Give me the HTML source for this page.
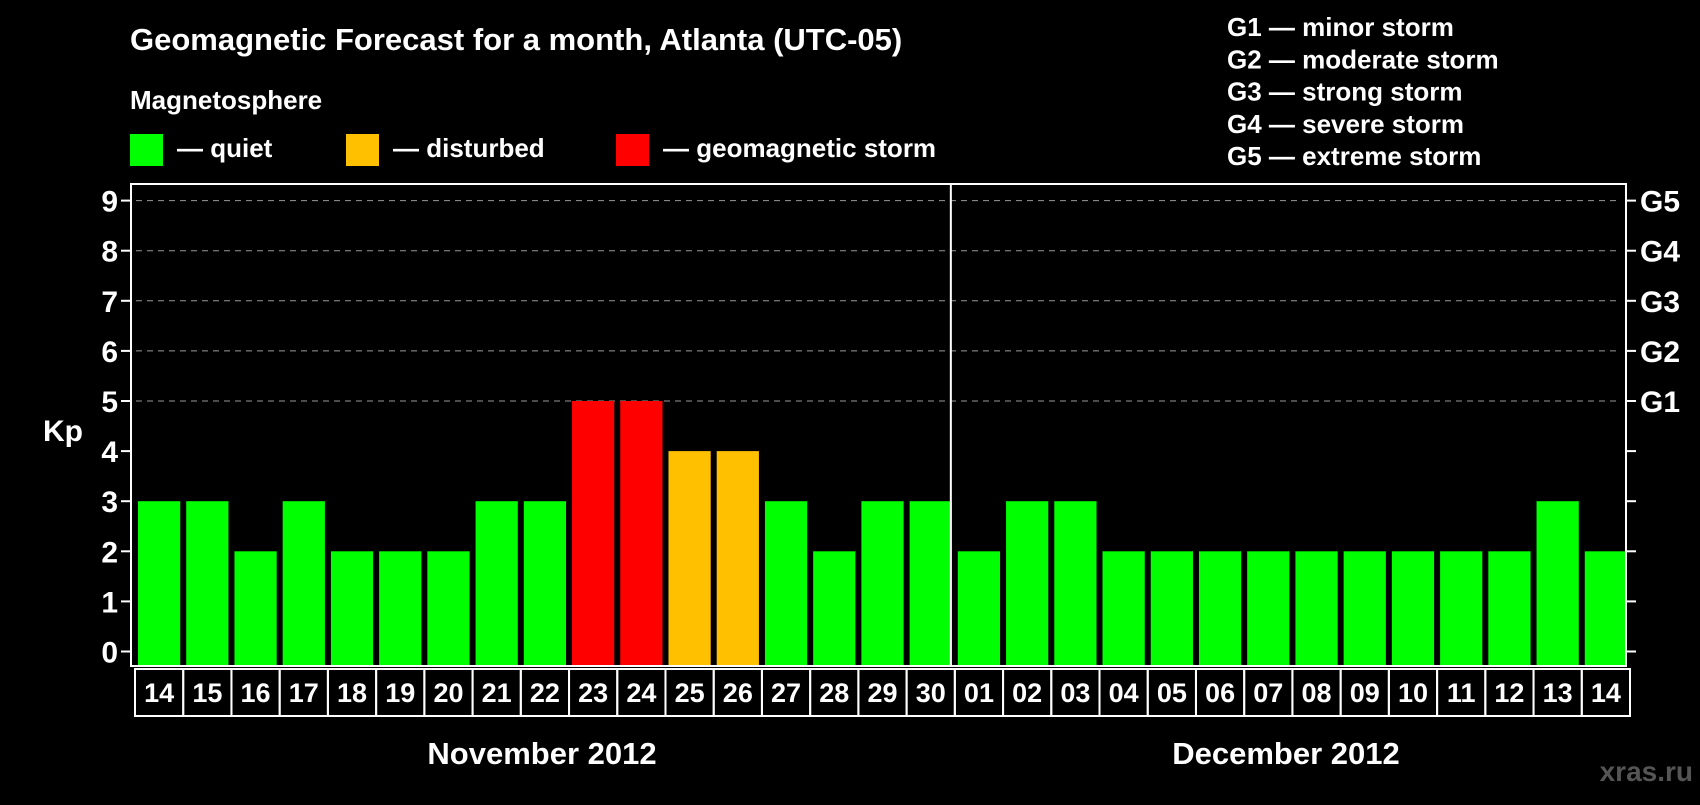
<!DOCTYPE html>
<html><head><meta charset="utf-8"><style>
body{margin:0;background:#000;width:1700px;height:800px;overflow:hidden;font-family:"Liberation Sans",sans-serif;font-weight:bold;color:#fff}
svg text{font-family:"Liberation Sans",sans-serif;font-weight:bold;fill:#fff}
</style></head><body>
<svg width="1700" height="800">
</svg>
<script>
const days=["14","15","16","17","18","19","20","21","22","23","24","25","26","27","28","29","30","01","02","03","04","05","06","07","08","09","10","11","12","13","14"];
const kp=[3,3,2,3,2,2,2,3,3,5,5,4,4,3,2,3,3,2,3,3,2,2,2,2,2,2,2,2,2,3,2];
const yTicks=[0,1,2,3,4,5,6,7,8,9];
const gLabels=["G1","G2","G3","G4","G5"];
const gLevels=[5,6,7,8,9];
const NS="http://www.w3.org/2000/svg";
const svg=document.querySelector('svg');
const L=131,R=1626,T=184,B=666,Y0=651.5,UNIT=50.1;
const pitch=(R-L)/days.length;
const y=v=>Y0-v*UNIT;
const x=i=>L+i*pitch;
function mk(tag,attrs,parent){const e=document.createElementNS(NS,tag);for(const k in attrs)e.setAttribute(k,attrs[k]);(parent||svg).appendChild(e);return e;}
function txt(s,attrs){const e=mk('text',attrs);e.textContent=s;return e;}
let e;
e=txt("Geomagnetic Forecast for a month, Atlanta (UTC-05)",{x:130,y:50,'font-size':31});

e=txt("Magnetosphere",{x:130,y:109,'font-size':26});

const leg=[["#00ff00","— quiet",130],["#ffc000","— disturbed",346],["#ff0000","— geomagnetic storm",616]];
leg.forEach(l=>{
 e=mk('rect',{x:l[2],y:134,width:33,height:32,fill:l[0]});
 
 e=txt(l[1],{x:l[2]+47,y:157,'font-size':26});
 
});
const gl=["G1 — minor storm","G2 — moderate storm","G3 — strong storm","G4 — severe storm","G5 — extreme storm"];
gl.forEach((s,i)=>{
 e=txt(s,{x:1227,y:36+i*32.3,'font-size':26});
 
});
gLevels.forEach(v=>{
 e=mk('line',{x1:L+5,x2:R-5,y1:y(v),y2:y(v),stroke:'#999','stroke-dasharray':'6,5','stroke-width':1});
 
});
kp.forEach((v,i)=>{
 const c=v>=5?"#ff0000":v>=4?"#ffc000":"#00ff00";
 e=mk('rect',{x:x(i)+7,y:y(v),width:pitch-6,height:B-y(v),fill:c});
 
});
e=mk('rect',{x:L,y:T,width:R-L,height:B-T,fill:'none',stroke:'#fff','stroke-width':2});

e=mk('line',{x1:x(17),x2:x(17),y1:T,y2:B,stroke:'#fff','stroke-width':2});

yTicks.forEach(v=>{
 mk('line',{x1:L-10,x2:L,y1:y(v),y2:y(v),stroke:'#fff','stroke-width':2});
 mk('line',{x1:R,x2:R+10,y1:y(v),y2:y(v),stroke:'#fff','stroke-width':2});
 e=txt(String(v),{x:118,y:y(v)+11,'font-size':30,'text-anchor':'end'});
 
});
gLabels.forEach((g,i)=>{
 e=txt(g,{x:1640,y:y(gLevels[i])+11,'font-size':30});
 
});
e=txt("Kp",{x:43,y:441,'font-size':30});

days.forEach((d,i)=>{
 e=mk('rect',{x:x(i)+4,y:669,width:pitch,height:47,fill:'none',stroke:'#fff','stroke-width':2});
 
 e=txt(d,{x:x(i)+4+pitch/2,y:702,'font-size':27,'text-anchor':'middle'});
 
});
e=txt("November 2012",{x:542,y:764,'font-size':31,'text-anchor':'middle'});

e=txt("December 2012",{x:1286,y:764,'font-size':31,'text-anchor':'middle'});

e=txt("xras.ru",{x:1693,y:781,'font-size':28,'text-anchor':'end'});
e.style.fill='#555';

</script>
</body></html>
